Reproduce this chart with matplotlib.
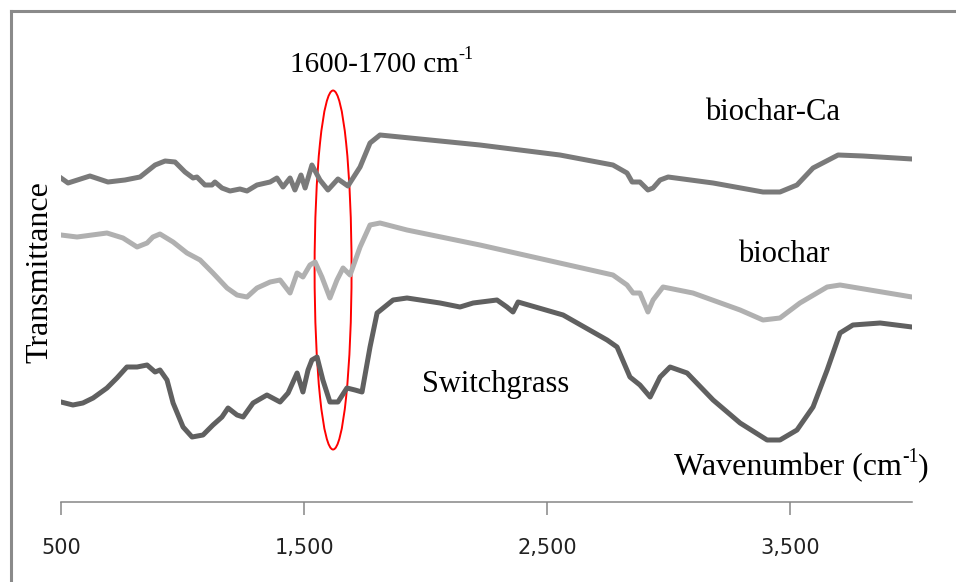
import matplotlib
matplotlib.use("Agg")
import matplotlib.pyplot as plt
from matplotlib.lines import Line2D
from matplotlib.patches import Ellipse

# FTIR spectra, transmittance in arbitrary (offset) units
ca_wn = [500, 529, 619, 693, 763, 825, 887, 928, 969, 1010, 1043, 1059, 1092, 1121, 1133, 1162,
         1195, 1236, 1265, 1306, 1360, 1388, 1413, 1442, 1462, 1487, 1504, 1532, 1565, 1598,
         1639, 1680, 1730, 1771, 1812, 2059, 2223, 2552, 2770, 2828, 2849, 2881, 2914, 2935,
         2964, 2997, 3182, 3387, 3457, 3527, 3593, 3696, 3799, 4000]
ca_t = [324, 319, 326, 320, 322, 325, 337, 341, 340, 330, 324, 325, 317, 317, 320, 314,
        311, 313, 311, 317, 320, 324, 315, 324, 312, 327, 314, 337, 322, 312,
        323, 316, 335, 359, 367, 361, 357, 347, 337, 329, 320, 320, 312, 314,
        322, 325, 319, 310, 310, 317, 334, 347, 346, 343]

bc_wn = [500, 566, 689, 755, 813, 854, 878, 907, 961, 1018, 1072, 1125, 1183, 1224, 1265, 1306,
         1360, 1401, 1442, 1471, 1495, 1524, 1545, 1573, 1606, 1635, 1660, 1689, 1730, 1771,
         1812, 1923, 2223, 2770, 2828, 2853, 2881, 2914, 2935, 2976, 3099, 3293, 3387, 3457,
         3539, 3651, 3704, 4000]
bc_t = [267, 265, 269, 264, 255, 259, 265, 268, 260, 249, 242, 229, 214, 207, 205, 214,
        220, 222, 209, 229, 225, 237, 240, 225, 204, 222, 234, 227, 255, 277,
        279, 272, 257, 227, 217, 209, 209, 190, 202, 215, 209, 192, 182, 184,
        199, 215, 217, 205]

sg_wn = [500, 549, 590, 632, 689, 730, 771, 813, 854, 887, 907, 936, 961, 1002, 1039, 1084,
         1125, 1162, 1187, 1224, 1249, 1290, 1347, 1401, 1434, 1471, 1495, 1516, 1532, 1553,
         1577, 1606, 1639, 1676, 1709, 1738, 1771, 1800, 1866, 1923, 2059, 2141, 2195, 2293,
         2334, 2359, 2380, 2565, 2746, 2787, 2840, 2881, 2923, 2964, 3005, 3075, 3182, 3293,
         3404, 3457, 3527, 3593, 3651, 3704, 3757, 3869, 4000]
sg_t = [100, 97, 99, 104, 114, 124, 135, 135, 137, 130, 132, 122, 99, 75, 65, 67,
        77, 85, 94, 87, 85, 99, 107, 100, 109, 129, 110, 132, 142, 145,
        122, 100, 100, 114, 112, 110, 155, 189, 202, 204, 199, 195, 199, 202,
        195, 190, 200, 187, 162, 155, 125, 117, 105, 125, 135, 129, 102, 79,
        62, 62, 72, 95, 132, 169, 177, 179, 175]

xticks = [500, 1500, 2500, 3500]
xtick_labels = ["500", "1,500", "2,500", "3,500"]

W, H = 956, 582
fig = plt.figure(figsize=(W / 100, H / 100), dpi=100)
ax = fig.add_axes([61 / W, (H - 502) / H, (912 - 61) / W, (502 - 20) / H])

ax.plot(ca_wn, ca_t, color="#7a7a7a", lw=3.6)
ax.plot(bc_wn, bc_t, color="#b0b0b0", lw=3.6)
ax.plot(sg_wn, sg_t, color="#606060", lw=3.6)

ax.add_patch(Ellipse((1619, 232), 152, 359, fill=False, edgecolor="red", lw=1.4))

ax.set_xlim(500, 4000)
ax.set_ylim(0, 482)
ax.set_xticks(xticks)
ax.set_xticklabels(xtick_labels, fontsize=15, family="DejaVu Sans", color="#222222")
ax.set_yticks([])
for s in ["top", "right", "left"]:
    ax.spines[s].set_visible(False)
ax.spines["bottom"].set_color("#868686")
ax.spines["bottom"].set_linewidth(1.1)
ax.tick_params(axis="x", direction="out", length=9, width=1.1, color="#868686", pad=17)

serif = "Liberation Serif"
def px(x, y):
    return x / W, 1 - y / H

fig.canvas.draw()
renderer = fig.canvas.get_renderer()

def text_sup(x, y, main, sup, tail="", size=22):
    t = fig.text(*px(x, y), main, family=serif, fontsize=size, ha="left", va="baseline")
    x1 = t.get_window_extent(renderer).x1
    s = fig.text(x1 / W, 1 - (y - 13) / H, sup, family=serif, fontsize=size * 0.62,
                 ha="left", va="baseline")
    if tail:
        x2 = s.get_window_extent(renderer).x1
        fig.text(x2 / W, 1 - y / H, tail, family=serif, fontsize=size, ha="left", va="baseline")

text_sup(290, 72, "1600-1700 cm", "-1", size=21)
text_sup(674, 475, "Wavenumber (cm", "-1", ")", size=23)
fig.text(*px(705, 120), "biochar-Ca", family=serif, fontsize=22, ha="left", va="baseline")
fig.text(*px(738, 262), "biochar", family=serif, fontsize=22, ha="left", va="baseline")
fig.text(*px(422, 392), "Switchgrass", family=serif, fontsize=22, ha="left", va="baseline")
fig.text(*px(40, 272), "Transmittance", family=serif, fontsize=23, ha="center", va="center", rotation=90)

# outer chart frame: only its top and left edges fall inside the picture
frame_kw = dict(transform=fig.transFigure, color="#8a8a8a", lw=2.2)
fig.lines.append(Line2D([10.5 / W, 10.5 / W], [-0.05, 1 - 11 / H], **frame_kw))
fig.lines.append(Line2D([10.5 / W, 1.05], [1 - 11 / H, 1 - 11 / H], **frame_kw))

fig.savefig("out.png", dpi=100)
